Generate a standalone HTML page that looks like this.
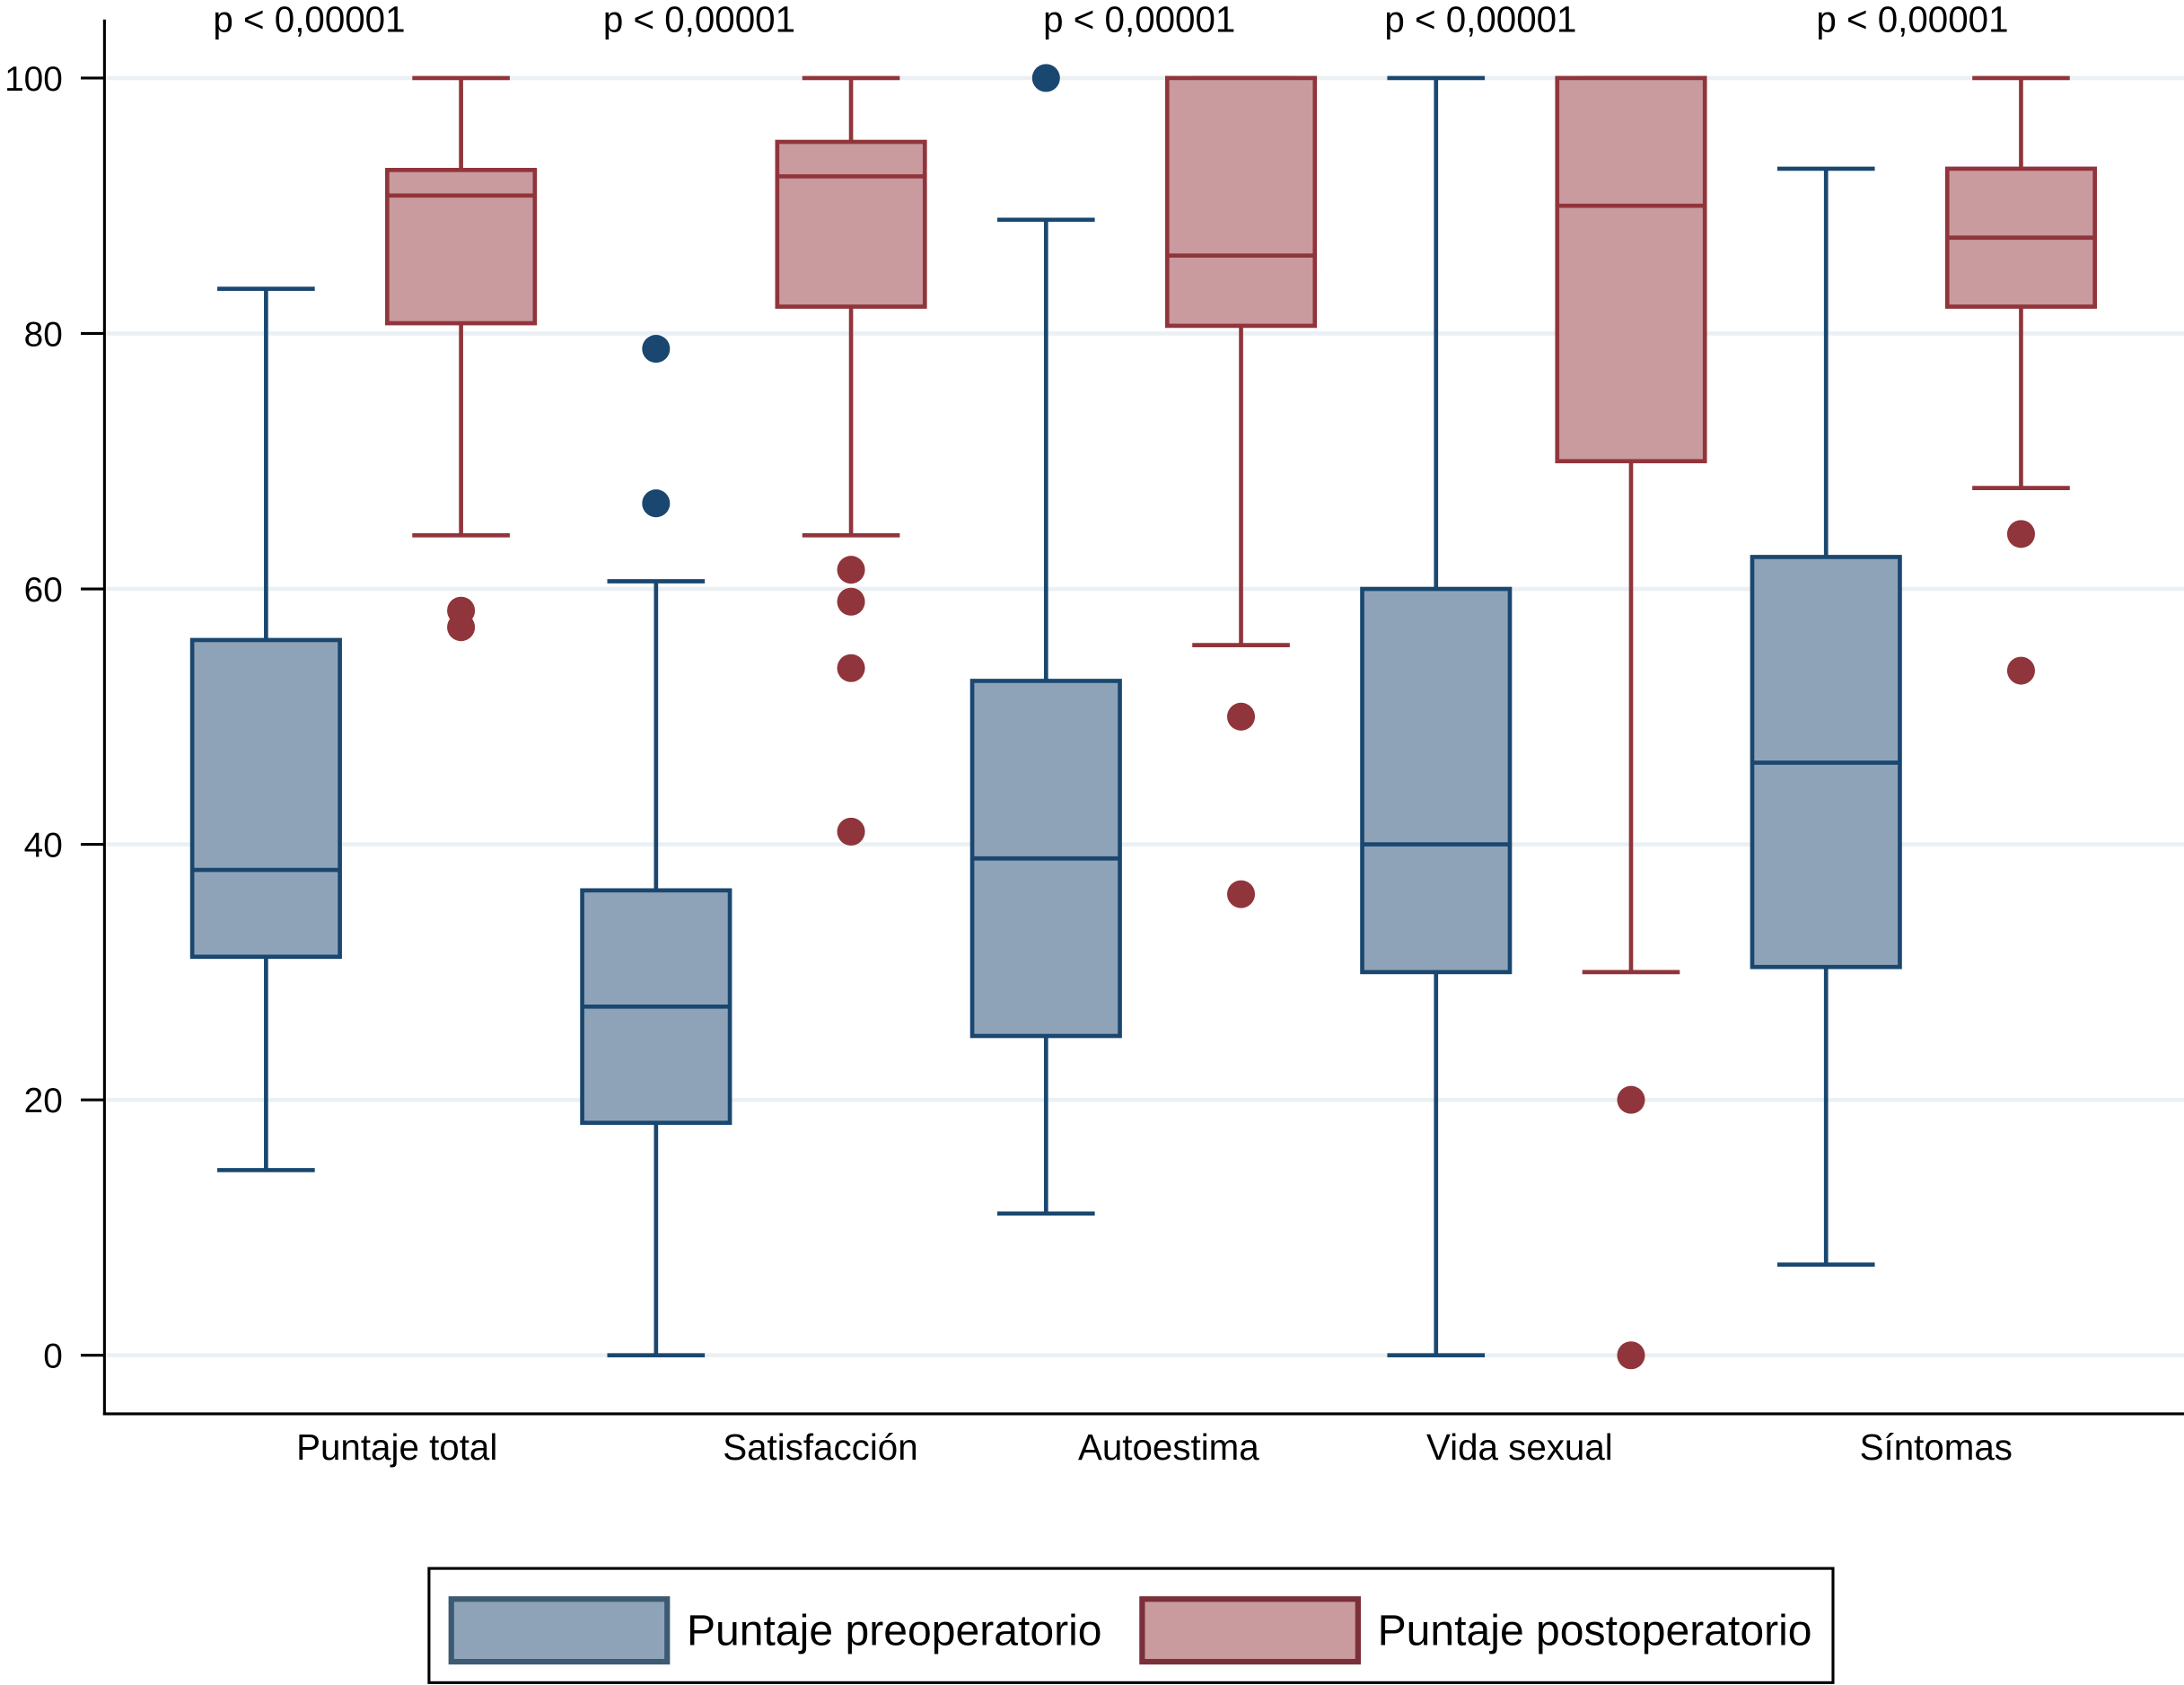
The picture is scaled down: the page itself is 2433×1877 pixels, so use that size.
<!DOCTYPE html>
<html><head><meta charset="utf-8"><style>
html,body{margin:0;padding:0;background:#fff;}
svg{display:block;font-family:"Liberation Sans",Arial,sans-serif;}
</style></head><body>
<svg id="chart" width="2433" height="1877" viewBox="0 0 1568 1209.7" preserveAspectRatio="none" xmlns="http://www.w3.org/2000/svg">
<g id="grid"></g><g id="axes"></g><g id="marks"></g><g id="labels"></g>
<g>
<rect x="308" y="1126" width="1008" height="82" fill="#fff" stroke="#000" stroke-width="2"/>
<rect x="324" y="1148" width="155" height="45" fill="#8fa3b8" stroke="#3d5a73" stroke-width="4"/>
<text x="493" y="1181" font-size="31">Puntaje preoperatorio</text>
<rect x="820" y="1148" width="155" height="45" fill="#c99a9e" stroke="#7a3039" stroke-width="4"/>
<text x="989" y="1181" font-size="31">Puntaje postoperatorio</text>
</g>
</svg>
<script>
const categories=["Puntaje total","Satisfacción","Autoestima","Vida sexual","Síntomas"];
const pLabels=["p < 0,00001","p < 0,00001","p < 0,00001","p < 0,00001","p < 0,00001"];
const yTicks=[0,20,40,60,80,100];
// [low, q1, median, q3, high]
const preStats=[[14.5,31.2,38,56,83.5],[0,18.2,27.3,36.4,60.6],[11.1,25,38.9,52.8,88.9],[0,30,40,60,100],[7.1,30.4,46.4,62.5,92.9]];
const postStats=[[64.2,80.8,90.8,92.8,100],[64.2,82.1,92.3,95,100],[55.6,80.6,86.1,100,100],[30,70,90,100,100],[67.9,82.1,87.5,92.9,100]];
const preOutliers=[[],[78.8,66.7],[100],[],[]];
const postOutliers=[[58.3,57],[61.5,59,53.8,41],[50,36.1],[20,0],[64.3,53.6]];

const NS="http://www.w3.org/2000/svg";
const y=v=>973-(v/100)*917;
const xPre=i=>191+i*280, xPost=i=>331+i*280;
const catX=[285,589,839,1091,1390], pX=[222,502,818,1063,1373];
function mk(tag,attrs,parent,text){const e=document.createElementNS(NS,tag);for(const k in attrs)e.setAttribute(k,attrs[k]);if(text!==undefined)e.textContent=text;parent.appendChild(e);return e;}
const grid=document.getElementById('grid'),axes=document.getElementById('axes'),marks=document.getElementById('marks'),labels=document.getElementById('labels');
yTicks.forEach(t=>{
  const g=mk('line',{x1:76,x2:1568,y1:y(t),y2:y(t),stroke:'#eaf0f3','stroke-width':3},grid);
  
  
  const tk=mk('line',{x1:58,x2:75,y1:y(t),y2:y(t),stroke:'#000','stroke-width':2},axes);
  
  
  const tl=mk('text',{x:45,y:y(t)+9,'font-size':25,'text-anchor':'end'},labels,String(t));
  
  
});
const ya=mk('line',{x1:75,x2:75,y1:14,y2:1016,stroke:'#000','stroke-width':2},axes);


const xa=mk('line',{x1:74,x2:1568,y1:1015,y2:1015,stroke:'#000','stroke-width':2},axes);


function box(cx,s,fill,stroke,name){
  const g=mk('g',{},marks);
  
  
  mk('line',{x1:cx,x2:cx,y1:y(s[0]),y2:y(s[1]),stroke:stroke,'stroke-width':3},g);
  mk('line',{x1:cx,x2:cx,y1:y(s[3]),y2:y(s[4]),stroke:stroke,'stroke-width':3},g);
  mk('line',{x1:cx-35,x2:cx+35,y1:y(s[0]),y2:y(s[0]),stroke:stroke,'stroke-width':3},g);
  mk('line',{x1:cx-35,x2:cx+35,y1:y(s[4]),y2:y(s[4]),stroke:stroke,'stroke-width':3},g);
  mk('rect',{x:cx-53,y:y(s[3]),width:106,height:y(s[1])-y(s[3]),fill:fill,stroke:stroke,'stroke-width':3},g);
  mk('line',{x1:cx-53,x2:cx+53,y1:y(s[2]),y2:y(s[2]),stroke:stroke,'stroke-width':3},g);
}
categories.forEach((c,i)=>{
  box(xPre(i),preStats[i],'#8fa3b8','#1a476f','box-pre-'+i);
  box(xPost(i),postStats[i],'#c99a9e','#90353b','box-post-'+i);
  preOutliers[i].forEach(v=>{const o=mk('circle',{cx:xPre(i),cy:y(v),r:10,fill:'#1a476f'},marks);
    
    });
  postOutliers[i].forEach(v=>{const o=mk('circle',{cx:xPost(i),cy:y(v),r:10,fill:'#90353b'},marks);
    
    });
  const cl=mk('text',{x:catX[i],y:1048,'font-size':26,'text-anchor':'middle'},labels,c);
  
  
  const pl=mk('text',{x:pX[i],y:23,'font-size':26,'text-anchor':'middle'},labels,pLabels[i]);
  
  
});
</script>
</body></html>
